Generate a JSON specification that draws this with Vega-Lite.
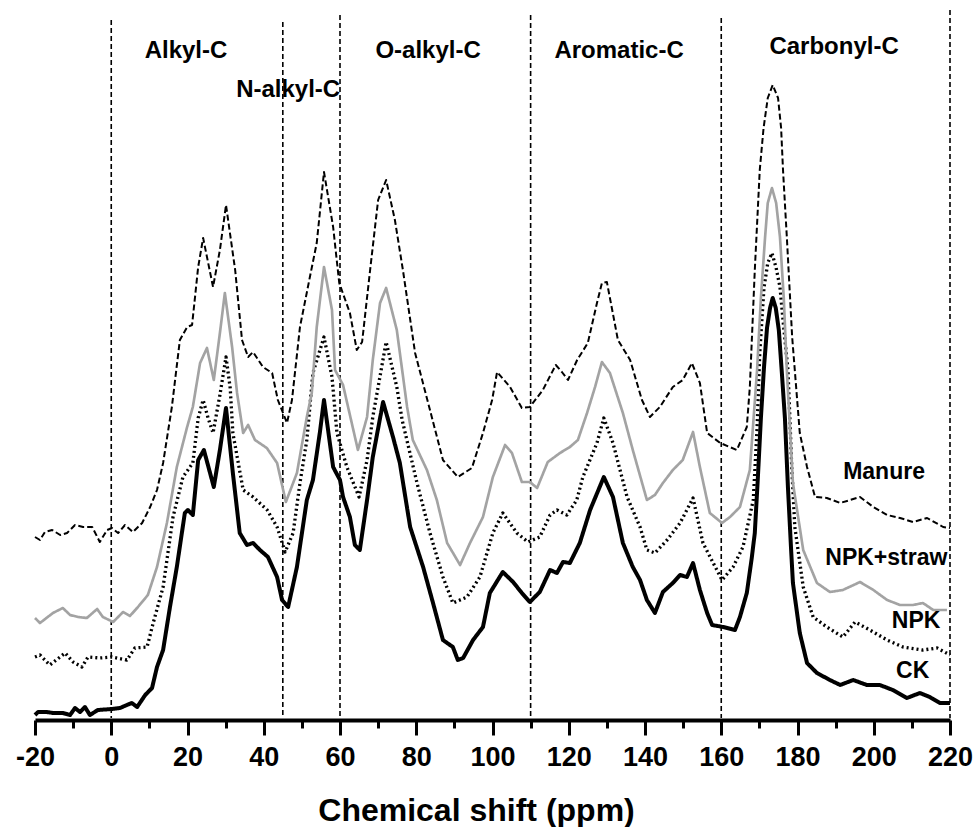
{
  "$schema": "https://vega.github.io/schema/vega-lite/v6.json",
  "width": 915,
  "height": 710,
  "autosize": {"type": "none"},
  "padding": {"left": 35, "top": 8, "right": 27, "bottom": 109},
  "background": "white",
  "config": {"view": {"stroke": null}, "font": "Liberation Sans"},
  "datasets": {
    "regions": [
      {"ppm": 0, "top": 698}, {"ppm": 45, "top": 696}, {"ppm": 60, "top": 703},
      {"ppm": 110, "top": 703}, {"ppm": 160, "top": 700}, {"ppm": 220, "top": 708}
    ],
    "regionLabels": [
      {"label": "Alkyl-C", "ppm": 19.6, "intensity": 660},
      {"label": "N-alkyl-C", "ppm": 46.4, "intensity": 621},
      {"label": "O-alkyl-C", "ppm": 83.1, "intensity": 660},
      {"label": "Aromatic-C", "ppm": 133.2, "intensity": 660},
      {"label": "Carbonyl-C", "ppm": 189.6, "intensity": 664}
    ],
    "seriesLabels": [
      {"label": "Manure", "ppm": 202.7, "intensity": 239},
      {"label": "NPK+straw", "ppm": 203.3, "intensity": 153},
      {"label": "NPK", "ppm": 211.1, "intensity": 90},
      {"label": "CK", "ppm": 210.2, "intensity": 40}
    ],
    "spectra": [
      {"series":"CK","ppm":-20,"intensity":3},{"series":"CK","ppm":-19.2,"intensity":6},{"series":"CK","ppm":-16.9,"intensity":6},{"series":"CK","ppm":-15.3,"intensity":5},{"series":"CK","ppm":-14.0,"intensity":5},{"series":"CK","ppm":-12.7,"intensity":5},{"series":"CK","ppm":-10.8,"intensity":3},{"series":"CK","ppm":-9.5,"intensity":10},{"series":"CK","ppm":-8.2,"intensity":6},{"series":"CK","ppm":-6.9,"intensity":11},{"series":"CK","ppm":-5.6,"intensity":3},{"series":"CK","ppm":-3.5,"intensity":8},{"series":"CK","ppm":0.2,"intensity":9},{"series":"CK","ppm":2.3,"intensity":10},{"series":"CK","ppm":4.1,"intensity":13},{"series":"CK","ppm":5.4,"intensity":15},{"series":"CK","ppm":6.8,"intensity":11},{"series":"CK","ppm":8.9,"intensity":23},{"series":"CK","ppm":10.7,"intensity":30},{"series":"CK","ppm":12.0,"intensity":51},{"series":"CK","ppm":13.6,"intensity":68},{"series":"CK","ppm":15.4,"intensity":111},{"series":"CK","ppm":17.2,"intensity":151},{"series":"CK","ppm":19.3,"intensity":205},{"series":"CK","ppm":20.1,"intensity":208},{"series":"CK","ppm":21.4,"intensity":203},{"series":"CK","ppm":22.8,"intensity":258},{"series":"CK","ppm":24.3,"intensity":268},{"series":"CK","ppm":26.9,"intensity":231},{"series":"CK","ppm":28.5,"intensity":268},{"series":"CK","ppm":30.1,"intensity":310},{"series":"CK","ppm":31.9,"intensity":245},{"series":"CK","ppm":33.7,"intensity":185},{"series":"CK","ppm":35.6,"intensity":173},{"series":"CK","ppm":37.2,"intensity":175},{"series":"CK","ppm":39.0,"intensity":168},{"series":"CK","ppm":41.1,"intensity":161},{"series":"CK","ppm":43.5,"intensity":141},{"series":"CK","ppm":44.8,"intensity":118},{"series":"CK","ppm":46.4,"intensity":111},{"series":"CK","ppm":48.7,"intensity":151},{"series":"CK","ppm":51.3,"intensity":218},{"series":"CK","ppm":52.9,"intensity":238},{"series":"CK","ppm":54.7,"intensity":285},{"series":"CK","ppm":55.8,"intensity":318},{"series":"CK","ppm":58.2,"intensity":251},{"series":"CK","ppm":60.0,"intensity":238},{"series":"CK","ppm":60.8,"intensity":221},{"series":"CK","ppm":62.6,"intensity":201},{"series":"CK","ppm":63.9,"intensity":173},{"series":"CK","ppm":65.2,"intensity":168},{"series":"CK","ppm":67.1,"intensity":218},{"series":"CK","ppm":68.6,"intensity":261},{"series":"CK","ppm":71.3,"intensity":316},{"series":"CK","ppm":73.9,"intensity":281},{"series":"CK","ppm":75.7,"intensity":255},{"series":"CK","ppm":78.4,"intensity":191},{"series":"CK","ppm":81.8,"intensity":151},{"series":"CK","ppm":84.4,"intensity":115},{"series":"CK","ppm":87.0,"intensity":78},{"series":"CK","ppm":89.6,"intensity":71},{"series":"CK","ppm":90.9,"intensity":58},{"series":"CK","ppm":92.3,"intensity":60},{"series":"CK","ppm":94.9,"intensity":78},{"series":"CK","ppm":97.5,"intensity":91},{"series":"CK","ppm":99.3,"intensity":125},{"series":"CK","ppm":102.7,"intensity":146},{"series":"CK","ppm":105.4,"intensity":136},{"series":"CK","ppm":107.7,"intensity":125},{"series":"CK","ppm":109.8,"intensity":116},{"series":"CK","ppm":112.4,"intensity":126},{"series":"CK","ppm":115.1,"intensity":148},{"series":"CK","ppm":116.9,"intensity":145},{"series":"CK","ppm":118.5,"intensity":156},{"series":"CK","ppm":120.3,"intensity":155},{"series":"CK","ppm":122.9,"intensity":175},{"series":"CK","ppm":125.6,"intensity":208},{"series":"CK","ppm":129.2,"intensity":241},{"series":"CK","ppm":131.6,"intensity":221},{"series":"CK","ppm":134.2,"intensity":175},{"series":"CK","ppm":136.8,"intensity":151},{"series":"CK","ppm":138.7,"intensity":138},{"series":"CK","ppm":140.5,"intensity":118},{"series":"CK","ppm":142.6,"intensity":105},{"series":"CK","ppm":144.7,"intensity":126},{"series":"CK","ppm":147.3,"intensity":135},{"series":"CK","ppm":149.2,"intensity":143},{"series":"CK","ppm":151.0,"intensity":141},{"series":"CK","ppm":152.6,"intensity":155},{"series":"CK","ppm":154.4,"intensity":128},{"series":"CK","ppm":156.3,"intensity":105},{"series":"CK","ppm":157.6,"intensity":93},{"series":"CK","ppm":160.5,"intensity":91},{"series":"CK","ppm":163.6,"intensity":88},{"series":"CK","ppm":164.9,"intensity":101},{"series":"CK","ppm":166.7,"intensity":125},{"series":"CK","ppm":168.0,"intensity":160},{"series":"CK","ppm":168.8,"intensity":185},{"series":"CK","ppm":169.6,"intensity":240},{"series":"CK","ppm":170.4,"intensity":300},{"series":"CK","ppm":171.2,"intensity":350},{"series":"CK","ppm":172.0,"intensity":390},{"series":"CK","ppm":172.8,"intensity":410},{"series":"CK","ppm":173.5,"intensity":420},{"series":"CK","ppm":174.3,"intensity":410},{"series":"CK","ppm":175.1,"intensity":388},{"series":"CK","ppm":175.9,"intensity":345},{"series":"CK","ppm":176.7,"intensity":300},{"series":"CK","ppm":177.5,"intensity":230},{"series":"CK","ppm":178.3,"intensity":170},{"series":"CK","ppm":178.8,"intensity":135},{"series":"CK","ppm":180.6,"intensity":85},{"series":"CK","ppm":182.5,"intensity":55},{"series":"CK","ppm":185.1,"intensity":45},{"series":"CK","ppm":188.5,"intensity":38},{"series":"CK","ppm":191.2,"intensity":33},{"series":"CK","ppm":194.6,"intensity":38},{"series":"CK","ppm":198.2,"intensity":33},{"series":"CK","ppm":201.6,"intensity":33},{"series":"CK","ppm":205.0,"intensity":28},{"series":"CK","ppm":208.7,"intensity":20},{"series":"CK","ppm":212.1,"intensity":25},{"series":"CK","ppm":214.7,"intensity":21},{"series":"CK","ppm":217.4,"intensity":15},{"series":"CK","ppm":220,"intensity":15},

      {"series":"NPK","ppm":-20,"intensity":61},{"series":"NPK","ppm":-18.7,"intensity":63},{"series":"NPK","ppm":-16.1,"intensity":53},{"series":"NPK","ppm":-12.1,"intensity":65},{"series":"NPK","ppm":-10.0,"intensity":56},{"series":"NPK","ppm":-7.7,"intensity":51},{"series":"NPK","ppm":-6.1,"intensity":61},{"series":"NPK","ppm":-3.0,"intensity":60},{"series":"NPK","ppm":0.2,"intensity":61},{"series":"NPK","ppm":4.1,"intensity":58},{"series":"NPK","ppm":6.2,"intensity":70},{"series":"NPK","ppm":9.4,"intensity":71},{"series":"NPK","ppm":11.0,"intensity":95},{"series":"NPK","ppm":13.6,"intensity":131},{"series":"NPK","ppm":16.2,"intensity":201},{"series":"NPK","ppm":18.8,"intensity":241},{"series":"NPK","ppm":21.4,"intensity":255},{"series":"NPK","ppm":22.8,"intensity":300},{"series":"NPK","ppm":24.1,"intensity":318},{"series":"NPK","ppm":25.4,"intensity":300},{"series":"NPK","ppm":26.7,"intensity":285},{"series":"NPK","ppm":28.5,"intensity":323},{"series":"NPK","ppm":30.1,"intensity":361},{"series":"NPK","ppm":31.2,"intensity":330},{"series":"NPK","ppm":31.9,"intensity":285},{"series":"NPK","ppm":34.6,"intensity":228},{"series":"NPK","ppm":37.2,"intensity":221},{"series":"NPK","ppm":40.9,"intensity":208},{"series":"NPK","ppm":43.5,"intensity":191},{"series":"NPK","ppm":45.6,"intensity":166},{"series":"NPK","ppm":47.7,"intensity":185},{"series":"NPK","ppm":49.5,"intensity":235},{"series":"NPK","ppm":51.3,"intensity":278},{"series":"NPK","ppm":52.9,"intensity":345},{"series":"NPK","ppm":55.8,"intensity":381},{"series":"NPK","ppm":57.9,"intensity":341},{"series":"NPK","ppm":59.2,"intensity":285},{"series":"NPK","ppm":61.8,"intensity":251},{"series":"NPK","ppm":65.0,"intensity":221},{"series":"NPK","ppm":67.1,"intensity":258},{"series":"NPK","ppm":68.6,"intensity":301},{"series":"NPK","ppm":72.1,"intensity":376},{"series":"NPK","ppm":74.9,"intensity":331},{"series":"NPK","ppm":76.3,"intensity":298},{"series":"NPK","ppm":80.2,"intensity":235},{"series":"NPK","ppm":83.6,"intensity":185},{"series":"NPK","ppm":87.0,"intensity":141},{"series":"NPK","ppm":89.6,"intensity":115},{"series":"NPK","ppm":93.3,"intensity":121},{"series":"NPK","ppm":96.7,"intensity":141},{"series":"NPK","ppm":100.1,"intensity":185},{"series":"NPK","ppm":102.7,"intensity":205},{"series":"NPK","ppm":106.4,"intensity":185},{"series":"NPK","ppm":109.3,"intensity":176},{"series":"NPK","ppm":112.4,"intensity":181},{"series":"NPK","ppm":115.1,"intensity":203},{"series":"NPK","ppm":116.9,"intensity":208},{"series":"NPK","ppm":119.5,"intensity":203},{"series":"NPK","ppm":122.1,"intensity":218},{"series":"NPK","ppm":123.7,"intensity":241},{"series":"NPK","ppm":127.4,"intensity":275},{"series":"NPK","ppm":129.2,"intensity":300},{"series":"NPK","ppm":131.6,"intensity":275},{"series":"NPK","ppm":135.3,"intensity":221},{"series":"NPK","ppm":138.7,"intensity":191},{"series":"NPK","ppm":140.5,"intensity":168},{"series":"NPK","ppm":142.6,"intensity":165},{"series":"NPK","ppm":145.8,"intensity":178},{"series":"NPK","ppm":149.2,"intensity":195},{"series":"NPK","ppm":152.6,"intensity":220},{"series":"NPK","ppm":155.2,"intensity":175},{"series":"NPK","ppm":157.9,"intensity":155},{"series":"NPK","ppm":160.2,"intensity":138},{"series":"NPK","ppm":163.1,"intensity":151},{"series":"NPK","ppm":165.7,"intensity":171},{"series":"NPK","ppm":168.4,"intensity":218},{"series":"NPK","ppm":169.4,"intensity":290},{"series":"NPK","ppm":170.1,"intensity":365},{"series":"NPK","ppm":171.2,"intensity":430},{"series":"NPK","ppm":172.2,"intensity":455},{"series":"NPK","ppm":173.3,"intensity":465},{"series":"NPK","ppm":174.4,"intensity":450},{"series":"NPK","ppm":175.4,"intensity":431},{"series":"NPK","ppm":176.4,"intensity":390},{"series":"NPK","ppm":177.5,"intensity":348},{"series":"NPK","ppm":178.5,"intensity":250},{"series":"NPK","ppm":179.3,"intensity":191},{"series":"NPK","ppm":181.5,"intensity":131},{"series":"NPK","ppm":184.1,"intensity":101},{"series":"NPK","ppm":187.7,"intensity":91},{"series":"NPK","ppm":191.9,"intensity":81},{"series":"NPK","ppm":195.1,"intensity":96},{"series":"NPK","ppm":199.0,"intensity":88},{"series":"NPK","ppm":203.5,"intensity":78},{"series":"NPK","ppm":207.7,"intensity":71},{"series":"NPK","ppm":212.9,"intensity":68},{"series":"NPK","ppm":216.6,"intensity":70},{"series":"NPK","ppm":220,"intensity":63},

      {"series":"NPK+straw","ppm":-20,"intensity":100},{"series":"NPK+straw","ppm":-18.7,"intensity":95},{"series":"NPK+straw","ppm":-15.3,"intensity":105},{"series":"NPK+straw","ppm":-12.7,"intensity":110},{"series":"NPK+straw","ppm":-10.8,"intensity":103},{"series":"NPK+straw","ppm":-8.7,"intensity":101},{"series":"NPK+straw","ppm":-6.4,"intensity":100},{"series":"NPK+straw","ppm":-3.7,"intensity":109},{"series":"NPK+straw","ppm":-2.2,"intensity":101},{"series":"NPK+straw","ppm":0.5,"intensity":96},{"series":"NPK+straw","ppm":3.1,"intensity":106},{"series":"NPK+straw","ppm":4.9,"intensity":102},{"series":"NPK+straw","ppm":7.0,"intensity":111},{"series":"NPK+straw","ppm":9.6,"intensity":123},{"series":"NPK+straw","ppm":12.0,"intensity":151},{"series":"NPK+straw","ppm":14.6,"intensity":195},{"series":"NPK+straw","ppm":17.2,"intensity":251},{"series":"NPK+straw","ppm":19.9,"intensity":291},{"series":"NPK+straw","ppm":21.4,"intensity":311},{"series":"NPK+straw","ppm":23.3,"intensity":355},{"series":"NPK+straw","ppm":25.1,"intensity":370},{"series":"NPK+straw","ppm":26.9,"intensity":338},{"series":"NPK+straw","ppm":28.5,"intensity":385},{"series":"NPK+straw","ppm":29.8,"intensity":425},{"series":"NPK+straw","ppm":31.7,"intensity":371},{"series":"NPK+straw","ppm":33.0,"intensity":325},{"series":"NPK+straw","ppm":34.6,"intensity":285},{"series":"NPK+straw","ppm":35.9,"intensity":293},{"series":"NPK+straw","ppm":37.7,"intensity":278},{"series":"NPK+straw","ppm":40.8,"intensity":270},{"series":"NPK+straw","ppm":43.5,"intensity":255},{"series":"NPK+straw","ppm":45.8,"intensity":216},{"series":"NPK+straw","ppm":48.7,"intensity":245},{"series":"NPK+straw","ppm":51.3,"intensity":301},{"series":"NPK+straw","ppm":52.6,"intensity":325},{"series":"NPK+straw","ppm":53.9,"intensity":391},{"series":"NPK+straw","ppm":55.8,"intensity":451},{"series":"NPK+straw","ppm":57.9,"intensity":408},{"series":"NPK+straw","ppm":58.7,"intensity":348},{"series":"NPK+straw","ppm":60.8,"intensity":333},{"series":"NPK+straw","ppm":62.6,"intensity":303},{"series":"NPK+straw","ppm":64.7,"intensity":268},{"series":"NPK+straw","ppm":67.1,"intensity":301},{"series":"NPK+straw","ppm":68.6,"intensity":358},{"series":"NPK+straw","ppm":70.5,"intensity":415},{"series":"NPK+straw","ppm":72.1,"intensity":430},{"series":"NPK+straw","ppm":74.9,"intensity":388},{"series":"NPK+straw","ppm":77.6,"intensity":311},{"series":"NPK+straw","ppm":79.1,"intensity":278},{"series":"NPK+straw","ppm":82.8,"intensity":248},{"series":"NPK+straw","ppm":85.4,"intensity":218},{"series":"NPK+straw","ppm":88.1,"intensity":175},{"series":"NPK+straw","ppm":91.5,"intensity":153},{"series":"NPK+straw","ppm":94.1,"intensity":175},{"series":"NPK+straw","ppm":97.5,"intensity":201},{"series":"NPK+straw","ppm":100.1,"intensity":241},{"series":"NPK+straw","ppm":103.3,"intensity":273},{"series":"NPK+straw","ppm":105.1,"intensity":265},{"series":"NPK+straw","ppm":107.7,"intensity":236},{"series":"NPK+straw","ppm":109.8,"intensity":236},{"series":"NPK+straw","ppm":111.7,"intensity":230},{"series":"NPK+straw","ppm":114.5,"intensity":256},{"series":"NPK+straw","ppm":117.7,"intensity":265},{"series":"NPK+straw","ppm":120.3,"intensity":271},{"series":"NPK+straw","ppm":122.4,"intensity":278},{"series":"NPK+straw","ppm":124.8,"intensity":305},{"series":"NPK+straw","ppm":126.9,"intensity":331},{"series":"NPK+straw","ppm":128.7,"intensity":356},{"series":"NPK+straw","ppm":130.8,"intensity":345},{"series":"NPK+straw","ppm":134.2,"intensity":305},{"series":"NPK+straw","ppm":136.8,"intensity":268},{"series":"NPK+straw","ppm":140.5,"intensity":218},{"series":"NPK+straw","ppm":142.6,"intensity":223},{"series":"NPK+straw","ppm":144.7,"intensity":235},{"series":"NPK+straw","ppm":147.3,"intensity":248},{"series":"NPK+straw","ppm":149.9,"intensity":258},{"series":"NPK+straw","ppm":152.6,"intensity":286},{"series":"NPK+straw","ppm":154.4,"intensity":251},{"series":"NPK+straw","ppm":157.0,"intensity":205},{"series":"NPK+straw","ppm":160.2,"intensity":195},{"series":"NPK+straw","ppm":162.3,"intensity":201},{"series":"NPK+straw","ppm":164.9,"intensity":211},{"series":"NPK+straw","ppm":167.5,"intensity":248},{"series":"NPK+straw","ppm":169.4,"intensity":348},{"series":"NPK+straw","ppm":170.4,"intensity":420},{"series":"NPK+straw","ppm":171.5,"intensity":481},{"series":"NPK+straw","ppm":172.2,"intensity":515},{"series":"NPK+straw","ppm":173.3,"intensity":530},{"series":"NPK+straw","ppm":174.4,"intensity":515},{"series":"NPK+straw","ppm":175.4,"intensity":481},{"series":"NPK+straw","ppm":176.4,"intensity":420},{"series":"NPK+straw","ppm":177.2,"intensity":348},{"series":"NPK+straw","ppm":178.8,"intensity":235},{"series":"NPK+straw","ppm":181.5,"intensity":168},{"series":"NPK+straw","ppm":185.1,"intensity":135},{"series":"NPK+straw","ppm":188.5,"intensity":126},{"series":"NPK+straw","ppm":191.9,"intensity":128},{"series":"NPK+straw","ppm":196.4,"intensity":136},{"series":"NPK+straw","ppm":199.9,"intensity":128},{"series":"NPK+straw","ppm":203.5,"intensity":118},{"series":"NPK+straw","ppm":206.9,"intensity":113},{"series":"NPK+straw","ppm":210.3,"intensity":113},{"series":"NPK+straw","ppm":212.9,"intensity":115},{"series":"NPK+straw","ppm":215.6,"intensity":108},{"series":"NPK+straw","ppm":219.2,"intensity":108},

      {"series":"Manure","ppm":-20,"intensity":181},{"series":"Manure","ppm":-18.7,"intensity":178},{"series":"Manure","ppm":-17.4,"intensity":186},{"series":"Manure","ppm":-15.5,"intensity":188},{"series":"Manure","ppm":-13.4,"intensity":183},{"series":"Manure","ppm":-11.6,"intensity":185},{"series":"Manure","ppm":-9.5,"intensity":193},{"series":"Manure","ppm":-7.4,"intensity":191},{"series":"Manure","ppm":-5.0,"intensity":191},{"series":"Manure","ppm":-3.0,"intensity":176},{"series":"Manure","ppm":-1.1,"intensity":188},{"series":"Manure","ppm":0.2,"intensity":190},{"series":"Manure","ppm":1.8,"intensity":185},{"series":"Manure","ppm":3.6,"intensity":193},{"series":"Manure","ppm":5.7,"intensity":186},{"series":"Manure","ppm":8.1,"intensity":195},{"series":"Manure","ppm":10.2,"intensity":211},{"series":"Manure","ppm":12.0,"intensity":228},{"series":"Manure","ppm":13.6,"intensity":255},{"series":"Manure","ppm":15.9,"intensity":311},{"series":"Manure","ppm":18.0,"intensity":378},{"series":"Manure","ppm":19.9,"intensity":391},{"series":"Manure","ppm":21.2,"intensity":393},{"series":"Manure","ppm":22.8,"intensity":451},{"series":"Manure","ppm":24.1,"intensity":480},{"series":"Manure","ppm":26.7,"intensity":431},{"series":"Manure","ppm":28.5,"intensity":468},{"series":"Manure","ppm":30.1,"intensity":513},{"series":"Manure","ppm":32.5,"intensity":448},{"series":"Manure","ppm":34.3,"intensity":378},{"series":"Manure","ppm":35.9,"intensity":361},{"series":"Manure","ppm":37.2,"intensity":366},{"series":"Manure","ppm":39.8,"intensity":351},{"series":"Manure","ppm":42.2,"intensity":345},{"series":"Manure","ppm":43.7,"intensity":318},{"series":"Manure","ppm":46.1,"intensity":295},{"series":"Manure","ppm":47.4,"intensity":318},{"series":"Manure","ppm":49.5,"intensity":391},{"series":"Manure","ppm":52.1,"intensity":441},{"series":"Manure","ppm":53.9,"intensity":475},{"series":"Manure","ppm":55.8,"intensity":546},{"series":"Manure","ppm":58.2,"intensity":491},{"series":"Manure","ppm":59.8,"intensity":435},{"series":"Manure","ppm":62.6,"intensity":405},{"series":"Manure","ppm":64.4,"intensity":368},{"series":"Manure","ppm":65.8,"intensity":376},{"series":"Manure","ppm":67.9,"intensity":448},{"series":"Manure","ppm":70.0,"intensity":518},{"series":"Manure","ppm":72.1,"intensity":538},{"series":"Manure","ppm":74.4,"intensity":498},{"series":"Manure","ppm":76.5,"intensity":448},{"series":"Manure","ppm":79.7,"intensity":365},{"series":"Manure","ppm":83.6,"intensity":308},{"series":"Manure","ppm":87.0,"intensity":258},{"series":"Manure","ppm":90.9,"intensity":241},{"series":"Manure","ppm":94.6,"intensity":250},{"series":"Manure","ppm":97.5,"intensity":285},{"series":"Manure","ppm":99.9,"intensity":318},{"series":"Manure","ppm":101.2,"intensity":346},{"series":"Manure","ppm":104.6,"intensity":331},{"series":"Manure","ppm":107.7,"intensity":310},{"series":"Manure","ppm":109.8,"intensity":311},{"series":"Manure","ppm":113.2,"intensity":328},{"series":"Manure","ppm":116.6,"intensity":353},{"series":"Manure","ppm":118.2,"intensity":346},{"series":"Manure","ppm":119.8,"intensity":338},{"series":"Manure","ppm":122.2,"intensity":358},{"series":"Manure","ppm":125.0,"intensity":375},{"series":"Manure","ppm":127.4,"intensity":415},{"series":"Manure","ppm":128.7,"intensity":435},{"series":"Manure","ppm":130.0,"intensity":436},{"series":"Manure","ppm":132.9,"intensity":378},{"series":"Manure","ppm":136.1,"intensity":358},{"series":"Manure","ppm":139.2,"intensity":318},{"series":"Manure","ppm":141.3,"intensity":301},{"series":"Manure","ppm":143.9,"intensity":311},{"series":"Manure","ppm":147.3,"intensity":331},{"series":"Manure","ppm":149.9,"intensity":338},{"series":"Manure","ppm":152.3,"intensity":355},{"series":"Manure","ppm":154.4,"intensity":335},{"series":"Manure","ppm":156.3,"intensity":285},{"series":"Manure","ppm":159.7,"intensity":275},{"series":"Manure","ppm":164.1,"intensity":268},{"series":"Manure","ppm":166.7,"intensity":291},{"series":"Manure","ppm":167.5,"intensity":331},{"series":"Manure","ppm":168.8,"intensity":448},{"series":"Manure","ppm":170.1,"intensity":548},{"series":"Manure","ppm":171.1,"intensity":590},{"series":"Manure","ppm":172.2,"intensity":620},{"series":"Manure","ppm":173.5,"intensity":633},{"series":"Manure","ppm":174.9,"intensity":620},{"series":"Manure","ppm":175.7,"intensity":590},{"series":"Manure","ppm":176.2,"intensity":548},{"series":"Manure","ppm":177.2,"intensity":481},{"series":"Manure","ppm":178.6,"intensity":381},{"series":"Manure","ppm":180.6,"intensity":285},{"series":"Manure","ppm":182.5,"intensity":251},{"series":"Manure","ppm":184.6,"intensity":221},{"series":"Manure","ppm":187.7,"intensity":220},{"series":"Manure","ppm":191.2,"intensity":215},{"series":"Manure","ppm":193.8,"intensity":218},{"series":"Manure","ppm":196.4,"intensity":221},{"series":"Manure","ppm":199.9,"intensity":211},{"series":"Manure","ppm":203.5,"intensity":203},{"series":"Manure","ppm":206.9,"intensity":200},{"series":"Manure","ppm":210.3,"intensity":196},{"series":"Manure","ppm":214.0,"intensity":200},{"series":"Manure","ppm":218.2,"intensity":191},{"series":"Manure","ppm":220,"intensity":190}
    ]
  },
  "layer": [
    {
      "data": {"name": "regions"},
      "mark": {"type": "rule", "color": "black", "strokeWidth": 1.6, "strokeDash": [5, 3]},
      "encoding": {
        "x": {"field": "ppm", "type": "quantitative",
              "scale": {"domain": [-20, 220], "nice": false, "zero": false}, "axis": null},
        "y": {"field": "top", "type": "quantitative", "scale": {"domain": [0, 710], "nice": false}, "axis": null},
        "y2": {"datum": 0}
      }
    },
    {
      "data": {"name": "spectra"},
      "mark": {"type": "line", "strokeJoin": "round", "strokeCap": "butt"},
      "encoding": {
        "x": {"field": "ppm", "type": "quantitative",
              "axis": {"orient": "bottom",
                       "values": [-20, -10, 0, 10, 20, 30, 40, 50, 60, 70, 80, 90, 100, 110, 120, 130, 140, 150, 160, 170, 180, 190, 200, 210, 220],
                       "offset": 2, "grid": false, "domainWidth": 4, "domainColor": "black",
                       "tickSize": {"condition": {"test": "datum.value % 20 === 0", "value": 15}, "value": 8},
                       "tickWidth": 3, "tickColor": "black",
                       "labelExpr": "datum.value % 20 === 0 ? replace(datum.label, '−', '-') : ''",
                       "labelFont": "Liberation Sans", "labelFontWeight": "bold", "labelFontSize": 27,
                       "labelColor": "black", "labelPadding": 30, "labelBaseline": "alphabetic",
                       "labelFlush": false, "labelOverlap": false,
                       "title": "Chemical shift (ppm)", "titleFont": "Liberation Sans", "titleFontSize": 32,
                       "titleFontWeight": "bold", "titleColor": "black", "titleX": 441, "titleY": 100,
                       "titleBaseline": "alphabetic", "titleAlign": "center"}},
        "y": {"field": "intensity", "type": "quantitative", "axis": null},
        "color": {"field": "series", "type": "nominal",
                  "scale": {"domain": ["Manure", "NPK+straw", "NPK", "CK"], "range": ["#000000", "#a3a3a3", "#000000", "#000000"]},
                  "legend": null},
        "strokeDash": {"field": "series", "type": "nominal",
                       "scale": {"domain": ["Manure", "NPK+straw", "NPK", "CK"], "range": [[6, 3], [1, 0], [2, 3], [1, 0]]},
                       "legend": null},
        "strokeWidth": {"field": "series", "type": "nominal",
                        "scale": {"domain": ["Manure", "NPK+straw", "NPK", "CK"], "range": [2, 4, 2, 3]},
                        "legend": null}
      }
    },
    {
      "data": {"name": "regionLabels"},
      "mark": {"type": "text", "font": "Liberation Sans", "fontWeight": "bold", "fontSize": 24, "color": "black", "align": "center", "baseline": "alphabetic"},
      "encoding": {
        "x": {"field": "ppm", "type": "quantitative", "axis": null},
        "y": {"field": "intensity", "type": "quantitative", "axis": null},
        "text": {"field": "label"}
      }
    },
    {
      "data": {"name": "seriesLabels"},
      "mark": {"type": "text", "font": "Liberation Sans", "fontWeight": "bold", "fontSize": 23, "color": "black", "align": "center", "baseline": "alphabetic"},
      "encoding": {
        "x": {"field": "ppm", "type": "quantitative", "axis": null},
        "y": {"field": "intensity", "type": "quantitative", "axis": null},
        "text": {"field": "label"}
      }
    }
  ],
  "resolve": {"axis": {"x": "independent", "y": "independent"}}
}
